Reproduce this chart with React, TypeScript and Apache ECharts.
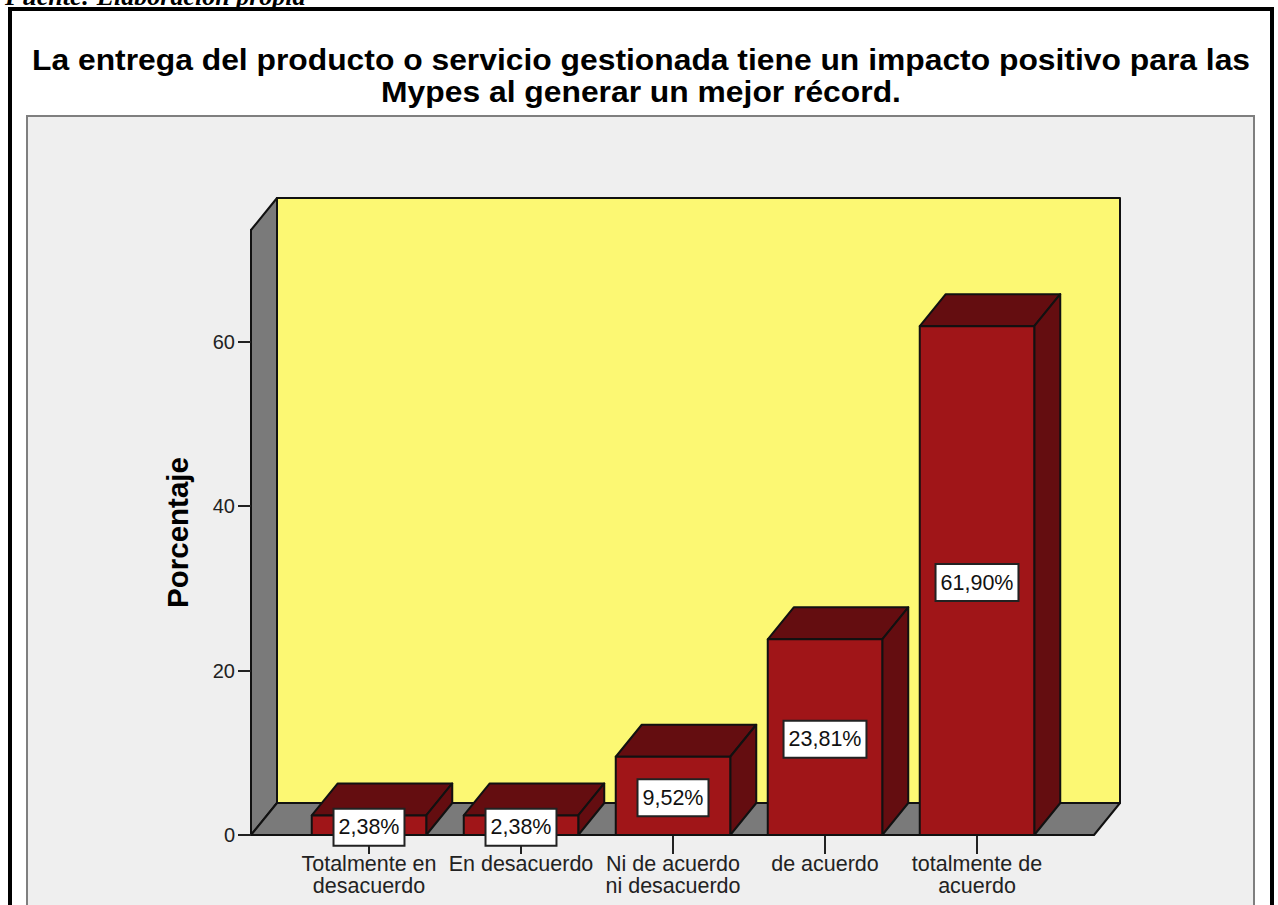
import React, { useEffect, useRef } from "react";
import * as echarts from "echarts";

const source = "Fuente: Elaboración propia";
const titleText = "La entrega del producto o servicio gestionada tiene un impacto positivo para las\nMypes al generar un mejor récord.";
const categories = ["Totalmente en\ndesacuerdo", "En desacuerdo", "Ni de acuerdo\nni desacuerdo", "de acuerdo", "totalmente de\nacuerdo"];
const percentages = [2.38, 2.38, 9.52, 23.81, 61.9];
const valueLabels = ["2,38%", "2,38%", "9,52%", "23,81%", "61,90%"];
const yTicks = [0, 20, 40, 60];
const yAxisTitle = "Porcentaje";

const W = 1278, H = 905;
const DX = 26, DY = 32;
const RED = "#a01518", DARK = "#640d10", GRAY = "#7a7a7a", YELLOW = "#fcf873", PANEL = "#efefef";
const FONT = '"Liberation Sans", Arial, sans-serif';
const AX = { left: 251, right: 1094, top: 230, bottom: 835 };

const line = { stroke: "#111", lineWidth: 2, lineJoin: "round" as const };

function renderBar(params: any, api: any) {
  const i = api.value(0);
  const v = api.value(1);
  const [cx, yTop] = api.coord([i, v]);
  const [, y0] = api.coord([i, 0]);
  const bw = api.size([1, 0])[0] * 0.7533;
  const x0 = cx - bw / 2, x1 = cx + bw / 2;
  return {
    type: "group",
    children: [
      { type: "polygon", shape: { points: [[x0, yTop], [x0 + DX, yTop - DY], [x1 + DX, yTop - DY], [x1, yTop]] }, style: { fill: DARK, ...line } },
      { type: "polygon", shape: { points: [[x1, yTop], [x1 + DX, yTop - DY], [x1 + DX, y0 - DY], [x1, y0]] }, style: { fill: DARK, ...line } },
      { type: "rect", shape: { x: x0, y: yTop, width: bw, height: y0 - yTop }, style: { fill: RED, ...line } },
      {
        type: "text",
        x: cx,
        y: (yTop + y0) / 2 + 2,
        style: {
          text: valueLabels[params.dataIndex],
          font: `21.5px ${FONT}`,
          fill: "#111",
          align: "center",
          verticalAlign: "middle",
          backgroundColor: "#fff",
          borderColor: "#222",
          borderWidth: 2,
          padding: [7, 4, 6, 4],
        },
      },
    ],
  };
}

export default function App() {
  const ref = useRef<HTMLDivElement>(null);
  useEffect(() => {
    const chart = echarts.init(ref.current!, undefined, { renderer: "svg" });
    const bandLeft = 293, bandRight = 1053;
    chart.setOption({
      animation: false,
      backgroundColor: "#fff",
      graphic: { elements: [
        { type: "rect", shape: { x: 10, y: 9, width: 1262, height: 930 }, style: { fill: "#fff", stroke: "#000", lineWidth: 4 } },
        { type: "text", x: 5, y: 9, style: { text: source, font: `italic bold 26px "Liberation Serif", serif`, fill: "#000", align: "left", verticalAlign: "bottom" } },
        { type: "rect", shape: { x: 27, y: 116, width: 1227, height: 830 }, style: { fill: PANEL, stroke: "#7f7f7f", lineWidth: 2 } },
        { type: "text", x: 641, y: 76, scaleX: 1.079, style: { text: titleText, font: `bold 29.5px ${FONT}`, lineHeight: 32, fill: "#000", align: "center", verticalAlign: "middle" } },
        { type: "polygon", shape: { points: [[AX.left, AX.bottom], [AX.left, AX.top], [AX.left + DX, AX.top - DY], [AX.left + DX, AX.bottom - DY]] }, style: { fill: GRAY, ...line } },
        { type: "rect", shape: { x: AX.left + DX, y: AX.top - DY, width: AX.right - AX.left, height: AX.bottom - AX.top }, style: { fill: YELLOW, ...line } },
        { type: "polygon", shape: { points: [[AX.left, AX.bottom], [AX.left + DX, AX.bottom - DY], [AX.right + DX, AX.bottom - DY], [AX.right, AX.bottom]] }, style: { fill: GRAY, ...line } },
      ] },
      grid: { left: bandLeft, right: W - bandRight, top: AX.top, bottom: H - AX.bottom, containLabel: false },
      xAxis: {
        type: "category",
        z: 1,
        data: categories,
        axisLine: { show: true, lineStyle: { color: "#111", width: 2 } },
        axisTick: { show: true, alignWithLabel: true, length: 19, lineStyle: { color: "#222", width: 2 } },
        axisLabel: { interval: 0, margin: 18, fontFamily: FONT, fontSize: 21.5, lineHeight: 22, color: "#222", hideOverlap: false },
      },
      yAxis: {
        type: "value",
        z: 1,
        min: 0,
        max: 73.6,
        interval: 20,
        offset: bandLeft - AX.left,
        name: yAxisTitle,
        nameLocation: "middle",
        nameGap: 59,
        nameRotate: 90,
        nameTextStyle: { fontFamily: FONT, fontWeight: "bold", fontSize: 29.5, color: "#000" },
        splitLine: { show: false },
        axisLine: { show: true, lineStyle: { color: "#111", width: 2 } },
        axisTick: { show: true, length: 13, customValues: yTicks, lineStyle: { color: "#222", width: 2 } },
        axisLabel: { customValues: yTicks, margin: 16, padding: [5, 0, 0, 0], fontFamily: FONT, fontSize: 20, color: "#222" },
      },
      series: [
        {
          type: "custom",
          z: 3,
          renderItem: renderBar,
          encode: { x: 0, y: 1 },
          data: percentages.map((p, i) => [i, p]),
        },
      ],
    });
    return () => chart.dispose();
  }, []);
  return <div ref={ref} style={{ position: "absolute", left: 0, top: 0, width: W, height: H }} />;
}
